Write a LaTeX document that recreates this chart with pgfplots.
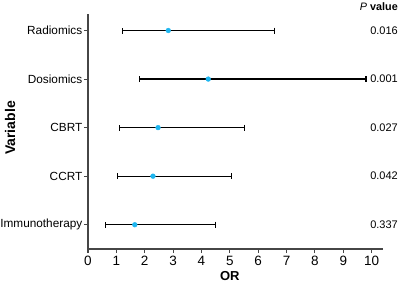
\documentclass[border=0pt]{standalone}
\usepackage{pgfplots}
\pgfplotsset{compat=1.18}
\usepackage{fontspec}
\setmainfont{Liberation Sans}
\definecolor{dotc}{RGB}{30,182,240}
\definecolor{axc}{RGB}{70,70,70}
\begin{document}
\begin{tikzpicture}[x=1pt,y=1pt,
  pv/.style={anchor=east, font=\fontsize{11}{11}\selectfont, inner sep=0pt}]
\useasboundingbox (0,0) rectangle (402,285);
\begin{axis}[
  at={(88pt,36pt)}, anchor=south west,
  scale only axis, width=295pt, height=235pt,
  xmin=0, xmax=10.4, ymin=0.5, ymax=5.34,
  axis lines*=left,
  axis line style={axc, line width=1.4pt},
  every tick/.style={axc, line width=1.1pt},
  tick align=outside, major tick length=4pt,
  xtick={0,...,10}, ytick={1,...,5},
  yticklabels={Immunotherapy,CCRT,CBRT,Dosiomics,Radiomics},
  /pgf/number format/assume math mode=true,
  xticklabel style={font=\fontsize{13.5}{13.5}\selectfont},
  yticklabel style={font=\fontsize{11.8}{11.8}\selectfont, inner sep=1.5pt},
  xlabel={\textbf{OR}},
  xlabel style={font=\fontsize{13}{13}\selectfont, at={(axis cs:5,0.5)}, yshift=-19pt, anchor=north},
  clip=false,
]
\addplot[only marks, mark=*, mark size=2.4pt, mark options={draw=dotc, fill=dotc},
  error bars/.cd, x dir=both, x explicit,
  error bar style={black, line width=1.2pt},
  error mark options={black, rotate=90, mark size=3pt, line width=1.1pt}]
 table[x=or, y=y, x error minus=em, x error plus=ep] {
 y or em ep
 5 2.83 1.61 3.73
 4 4.24 2.41 5.56
 3 2.47 1.35 3.04
 2 2.29 1.26 2.77
 1 1.65 1.04 2.83
};
\node[pv] at ([xshift=15pt]axis cs:10.4,5) {0.016};
\node[pv] at ([xshift=15pt]axis cs:10.4,4) {0.001};
\node[pv] at ([xshift=15pt]axis cs:10.4,3) {0.027};
\node[pv] at ([xshift=15pt]axis cs:10.4,2) {0.042};
\node[pv] at ([xshift=15pt]axis cs:10.4,1) {0.337};
\node[anchor=east, font=\fontsize{10.8}{10.8}\selectfont, inner sep=0pt] at ([xshift=15pt,yshift=7.5pt]axis cs:10.4,5.34) {\textit{P} \textbf{value}};
\node[rotate=90, font=\fontsize{14}{14}\selectfont, inner sep=0pt] at ([xshift=-78pt,yshift=3.5pt]axis description cs:0,0.5) {\textbf{Variable}};
\end{axis}
\end{tikzpicture}
\end{document}
